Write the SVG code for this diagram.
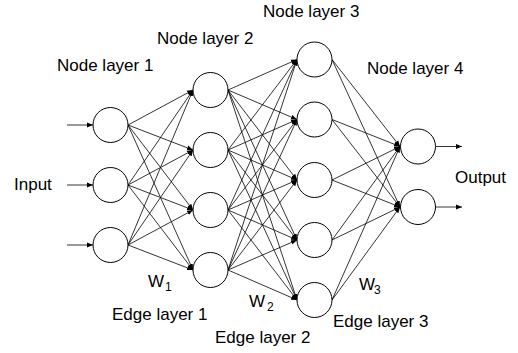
<svg xmlns="http://www.w3.org/2000/svg" width="518" height="353" viewBox="0 0 518 353">
<style>
.n{fill:#fff;stroke:#000;stroke-width:1}
.e line{stroke:#000;stroke-width:0.8;marker-end:url(#ah)}
.t{font-family:"Liberation Sans",Arial,sans-serif;font-size:17px;fill:#000}
.s{font-family:"Liberation Sans",Arial,sans-serif;font-size:12px;fill:#000}
</style>
<defs>
<marker id="ah" markerUnits="userSpaceOnUse" markerWidth="6" markerHeight="6" refX="6" refY="3" orient="auto">
<path d="M0,0.6 L6,3 L0,5.4 z" fill="#000"/>
</marker>
</defs>
<rect width="518" height="353" fill="#fff"/>
<g id="connectors" class="e">
<line x1="67" y1="125" x2="93" y2="125"/>
<line x1="67" y1="185" x2="93" y2="185"/>
<line x1="67" y1="245" x2="93" y2="245"/>
<line x1="128" y1="125" x2="193" y2="90"/>
<line x1="128" y1="125" x2="193" y2="150"/>
<line x1="128" y1="125" x2="193" y2="210"/>
<line x1="128" y1="125" x2="193" y2="270"/>
<line x1="128" y1="185" x2="193" y2="90"/>
<line x1="128" y1="185" x2="193" y2="150"/>
<line x1="128" y1="185" x2="193" y2="210"/>
<line x1="128" y1="185" x2="193" y2="270"/>
<line x1="128" y1="245" x2="193" y2="90"/>
<line x1="128" y1="245" x2="193" y2="150"/>
<line x1="128" y1="245" x2="193" y2="210"/>
<line x1="128" y1="245" x2="193" y2="270"/>
<line x1="228" y1="90" x2="297" y2="59.5"/>
<line x1="228" y1="90" x2="297" y2="119.5"/>
<line x1="228" y1="90" x2="297" y2="180"/>
<line x1="228" y1="90" x2="297" y2="240"/>
<line x1="228" y1="90" x2="297" y2="300"/>
<line x1="228" y1="150" x2="297" y2="59.5"/>
<line x1="228" y1="150" x2="297" y2="119.5"/>
<line x1="228" y1="150" x2="297" y2="180"/>
<line x1="228" y1="150" x2="297" y2="240"/>
<line x1="228" y1="150" x2="297" y2="300"/>
<line x1="228" y1="210" x2="297" y2="59.5"/>
<line x1="228" y1="210" x2="297" y2="119.5"/>
<line x1="228" y1="210" x2="297" y2="180"/>
<line x1="228" y1="210" x2="297" y2="240"/>
<line x1="228" y1="210" x2="297" y2="300"/>
<line x1="228" y1="270" x2="297" y2="59.5"/>
<line x1="228" y1="270" x2="297" y2="119.5"/>
<line x1="228" y1="270" x2="297" y2="180"/>
<line x1="228" y1="270" x2="297" y2="240"/>
<line x1="228" y1="270" x2="297" y2="300"/>
<line x1="332" y1="59.5" x2="400" y2="146.5"/>
<line x1="332" y1="59.5" x2="400" y2="207"/>
<line x1="332" y1="119.5" x2="400" y2="146.5"/>
<line x1="332" y1="119.5" x2="400" y2="207"/>
<line x1="332" y1="180" x2="400" y2="146.5"/>
<line x1="332" y1="180" x2="400" y2="207"/>
<line x1="332" y1="240" x2="400" y2="146.5"/>
<line x1="332" y1="240" x2="400" y2="207"/>
<line x1="332" y1="300" x2="400" y2="146.5"/>
<line x1="332" y1="300" x2="400" y2="207"/>
<line x1="436" y1="146.5" x2="462" y2="146.5"/>
<line x1="436" y1="207" x2="462" y2="207"/>
</g>
<g id="layer1">
<circle id="n1_1" class="n" cx="110.5" cy="125" r="17.5"/>
<circle id="n1_2" class="n" cx="110.5" cy="185" r="17.5"/>
<circle id="n1_3" class="n" cx="110.5" cy="245" r="17.5"/>
</g>
<g id="layer2">
<circle id="n2_1" class="n" cx="210.5" cy="90" r="17.5"/>
<circle id="n2_2" class="n" cx="210.5" cy="150" r="17.5"/>
<circle id="n2_3" class="n" cx="210.5" cy="210" r="17.5"/>
<circle id="n2_4" class="n" cx="210.5" cy="270" r="17.5"/>
</g>
<g id="layer3">
<circle id="n3_1" class="n" cx="314.5" cy="59.5" r="17.5"/>
<circle id="n3_2" class="n" cx="314.5" cy="119.5" r="17.5"/>
<circle id="n3_3" class="n" cx="314.5" cy="180" r="17.5"/>
<circle id="n3_4" class="n" cx="314.5" cy="240" r="17.5"/>
<circle id="n3_5" class="n" cx="314.5" cy="300" r="17.5"/>
</g>
<g id="layer4">
<circle id="n4_1" class="n" cx="418" cy="146.5" r="17.5"/>
<circle id="n4_2" class="n" cx="418" cy="207" r="17.5"/>
</g>
<g id="labels">
<text class="t" x="57" y="71">Node layer 1</text>
<text class="t" x="157" y="44">Node layer 2</text>
<text class="t" x="263" y="17">Node layer 3</text>
<text class="t" x="367" y="74">Node layer 4</text>
<text class="t" x="14" y="190">Input</text>
<text class="t" x="455" y="183">Output</text>
<text class="t" x="112" y="320">Edge layer 1</text>
<text class="t" x="215" y="343">Edge layer 2</text>
<text class="t" x="333" y="327">Edge layer 3</text>
<text class="t" x="148" y="287">W</text><text class="s" x="165" y="291">1</text>
<text class="t" x="249" y="307">W</text><text class="s" x="267" y="311">2</text>
<text class="t" x="359" y="290">W</text><text class="s" x="374" y="294">3</text>
</g>
</svg>
